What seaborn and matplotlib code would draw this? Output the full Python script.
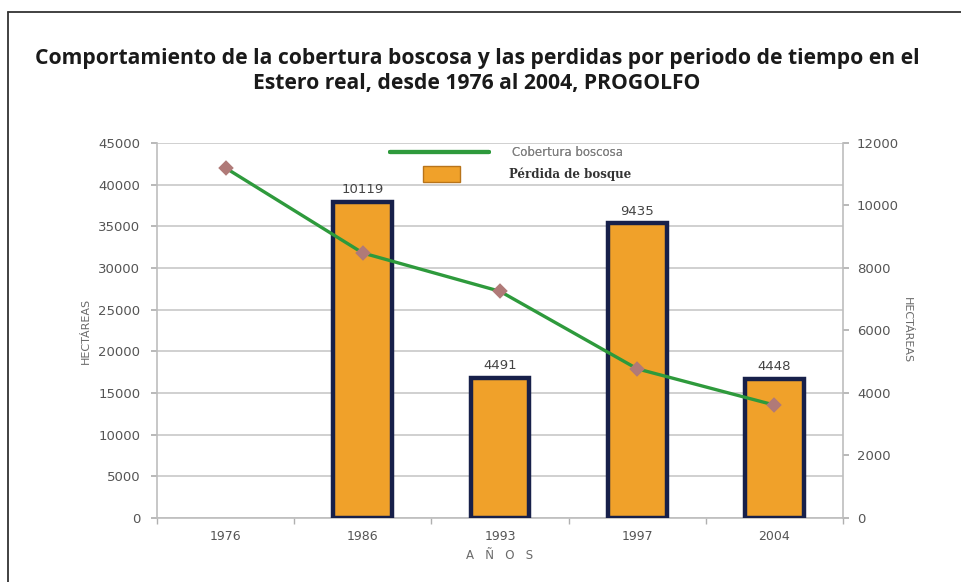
import numpy as np
import pandas as pd
import seaborn as sns
import matplotlib.pyplot as plt
from matplotlib.lines import Line2D
from matplotlib.ticker import MultipleLocator, FixedLocator

anios = ['1976', '1986', '1993', '1997', '2004']
cobertura = [42000, 31800, 27200, 17900, 13550]
perdida = [np.nan, 10119, 4491, 9435, 4448]

datos = pd.DataFrame({'Anio': anios, 'Cobertura': cobertura, 'Perdida': perdida})

sns.set_theme(style='white')
plt.rcParams['font.family'] = ['DejaVu Sans']

gris = '#6a6a6a'
verde = '#2e9a3c'
naranja = '#f0a12a'
azul = '#17204a'

fig = plt.figure(figsize=(9.62, 5.82), dpi=100)
ax = fig.add_axes([0.1632, 0.11, 0.7131, 0.6443])
ax_der = ax.twinx()
ax_lin = ax.twinx()

# barras de perdida (eje derecho)
sns.barplot(data=datos, x='Anio', y='Perdida', order=anios, ax=ax_der,
            color=naranja, saturation=1, width=0.43, edgecolor=azul, linewidth=3.2)
ax_der.bar_label(ax_der.containers[0], fmt='{:.0f}', padding=4, fontsize=9.5, color='#444444')

# linea de cobertura (eje izquierdo)
sns.pointplot(data=datos, x='Anio', y='Cobertura', order=anios, ax=ax_lin,
              color=verde, markers='D', markersize=6, linewidth=2.4)
for l in ax_lin.lines:
    l.set_markerfacecolor('#b07a78')
    l.set_markeredgecolor('#b07a78')

ax.set_xlim(-0.5, 4.5)
ax.set_ylim(0, 45000)
ax_lin.set_ylim(0, 45000)
ax_der.set_ylim(0, 12000)

ax.yaxis.set_major_locator(MultipleLocator(5000))
ax_der.yaxis.set_major_locator(MultipleLocator(2000))
ax.grid(axis='y', color='#c8c8c8', linewidth=1.2)
ax.grid(axis='x', visible=False)

ax.set_xticks(range(len(anios)))
ax.set_xticklabels(anios)
ax.xaxis.set_minor_locator(FixedLocator(np.arange(-0.5, 5, 1)))
ax.tick_params(axis='x', which='major', length=0, labelsize=9, labelcolor='#555555', pad=9)
ax.tick_params(axis='x', which='minor', bottom=True, length=4, color='#b0b0b0', width=1)
ax.tick_params(axis='y', left=True, length=4, color='#b0b0b0', labelsize=9.5, labelcolor='#555555', pad=8)
ax_der.tick_params(axis='y', right=True, length=4, color='#b0b0b0', labelsize=9.5, labelcolor='#555555', pad=6)

for a in (ax, ax_der, ax_lin):
    for s in a.spines.values():
        s.set_visible(False)
ax.spines['left'].set_visible(True)
ax.spines['bottom'].set_visible(True)
ax_der.spines['right'].set_visible(True)
for s in (ax.spines['left'], ax.spines['bottom'], ax_der.spines['right']):
    s.set_color('#bdbdbd')
    s.set_linewidth(1.2)

ax_lin.set_yticks([])
ax_lin.set_ylabel('')
ax_lin.set_xlabel('')
ax_der.set_xlabel('')

ax.set_ylabel('HECTÁREAS', fontsize=8, color=gris, labelpad=5)
ax_der.set_ylabel('HECTÁREAS', fontsize=8, color=gris, rotation=270, labelpad=9)
ax.set_xlabel('A   Ñ   O   S', fontsize=8.5, color=gris, labelpad=4)

# leyenda (dos piezas para imitar el original)
h_lin = Line2D([], [], color=verde, linewidth=3)
h_bar = plt.Rectangle((0, 0), 1, 1, facecolor=naranja, edgecolor='#b8741a', linewidth=1)
leg1 = fig.legend([h_lin], ['Cobertura boscosa'], loc='center left',
                  bbox_to_anchor=(390 / 962, 1 - 153 / 582), frameon=False,
                  fontsize=8.5, handlelength=8.4, handletextpad=1.9,
                  borderpad=0, borderaxespad=0)
leg1.get_texts()[0].set_color('#808080')
leg2 = fig.legend([h_bar], ['Pérdida de bosque'], loc='center left',
                  bbox_to_anchor=(423 / 962, 1 - 174 / 582), frameon=False,
                  fontsize=8.5, handlelength=3.1, handleheight=1.8, handletextpad=4.2,
                  borderpad=0, borderaxespad=0)
leg2.get_texts()[0].set_fontweight('bold')
leg2.get_texts()[0].set_family('DejaVu Serif')
leg2.get_texts()[0].set_color('#333333')
fig.add_artist(leg1)

fig.text(0.496, 0.878, 'Comportamiento de la cobertura boscosa y las perdidas por periodo de tiempo en el\nEstero real, desde 1976 al 2004, PROGOLFO',
         ha='center', va='center', fontsize=15.2, fontweight='bold', family='Open Sans',
         linespacing=1.3, color='#1a1a1a')

# marco
fig.add_artist(Line2D([0.0083, 0.0083], [0, 0.979], color='#333333', linewidth=1.3))
fig.add_artist(Line2D([0.0083, 1], [0.979, 0.979], color='#333333', linewidth=1.3))

plt.savefig('out.png', dpi=100)
